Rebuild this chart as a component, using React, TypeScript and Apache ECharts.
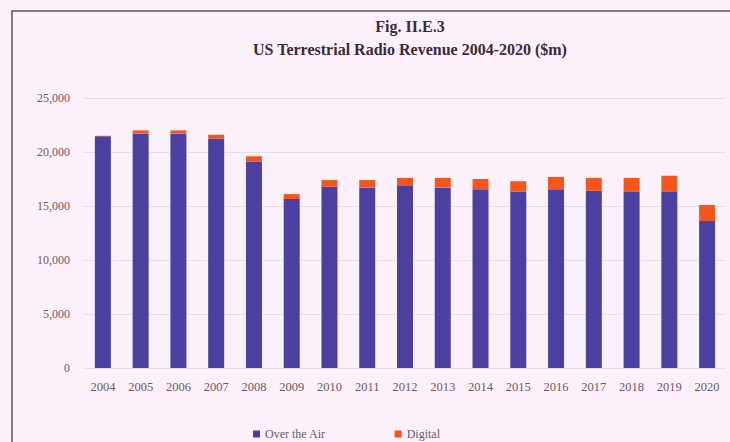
import React, { useEffect, useRef } from "react";
import * as echarts from "echarts";

const years = ["2004","2005","2006","2007","2008","2009","2010","2011","2012","2013","2014","2015","2016","2017","2018","2019","2020"];
const overTheAir = [21450, 21700, 21700, 21250, 19100, 15650, 16800, 16700, 16850, 16700, 16550, 16350, 16550, 16400, 16300, 16300, 13600];
const digital = [50, 300, 300, 350, 500, 450, 600, 700, 750, 900, 950, 950, 1150, 1200, 1300, 1500, 1500];
const yTicks = [0, 5000, 10000, 15000, 20000, 25000];

const titleLine1 = "Fig. II.E.3";
const titleLine2 = "US Terrestrial Radio Revenue 2004-2020 ($m)";

export default function App() {
  const ref = useRef<HTMLDivElement>(null);
  useEffect(() => {
    document.body.style.margin = "0";
    const chart = echarts.init(ref.current!, undefined, { renderer: "svg" });
    const font = "'Liberation Serif', 'DejaVu Serif', serif";
    chart.setOption({
      animation: false,
      backgroundColor: "#fcf1fb",
      textStyle: { fontFamily: font },
      graphic: [
        {
          type: "rect",
          shape: { x: 12, y: 11, width: 760, height: 470 },
          style: { fill: "none", stroke: "#5a5458", lineWidth: 1.5 },
          silent: true,
        },
        {
          type: "text",
          x: 410,
          y: 26,
          style: {
            text: titleLine1,
            textAlign: "center",
            textVerticalAlign: "middle",
            font: "bold 16px " + font,
            fill: "#3a2a3a",
          },
        },
        {
          type: "text",
          x: 410,
          y: 49,
          style: {
            text: titleLine2,
            textAlign: "center",
            textVerticalAlign: "middle",
            font: "bold 16px " + font,
            fill: "#3a2a3a",
          },
        },
      ],
      legend: {
        data: ["Over the Air", "Digital"],
        left: 248,
        top: 423,
        itemWidth: 7,
        itemHeight: 7,
        itemGap: 69,
        icon: "rect",
        textStyle: { fontFamily: font, fontSize: 12, color: "#6a5a66" },
      },
      grid: { left: 84, right: 4, top: 98, bottom: 74, containLabel: false },
      xAxis: {
        type: "category",
        data: years,
        axisLine: { show: false },
        axisTick: { show: false },
        axisLabel: { fontFamily: font, fontSize: 12.5, color: "#6a5a66", margin: 12, interval: 0 },
      },
      yAxis: {
        type: "value",
        min: 0,
        max: 25000,
        interval: 5000,
        axisLine: { show: false },
        axisTick: { show: false },
        splitLine: { lineStyle: { color: "#e9dde8", width: 1 } },
        axisLabel: {
          fontFamily: font,
          fontSize: 12,
          color: "#6a5a66",
          margin: 14,
          formatter: (v: number) => (yTicks.includes(v) ? v.toLocaleString("en-US") : ""),
        },
      },
      series: [
        {
          name: "Over the Air",
          type: "bar",
          stack: "total",
          data: overTheAir,
          barWidth: 16,
          itemStyle: { color: "#4b3f9f" },
        },
        {
          name: "Digital",
          type: "bar",
          stack: "total",
          data: digital,
          barWidth: 16,
          itemStyle: { color: "#f2561d" },
        },
      ],
    });
    return () => chart.dispose();
  }, []);
  return <div ref={ref} style={{ width: 730, height: 442 }} />;
}
